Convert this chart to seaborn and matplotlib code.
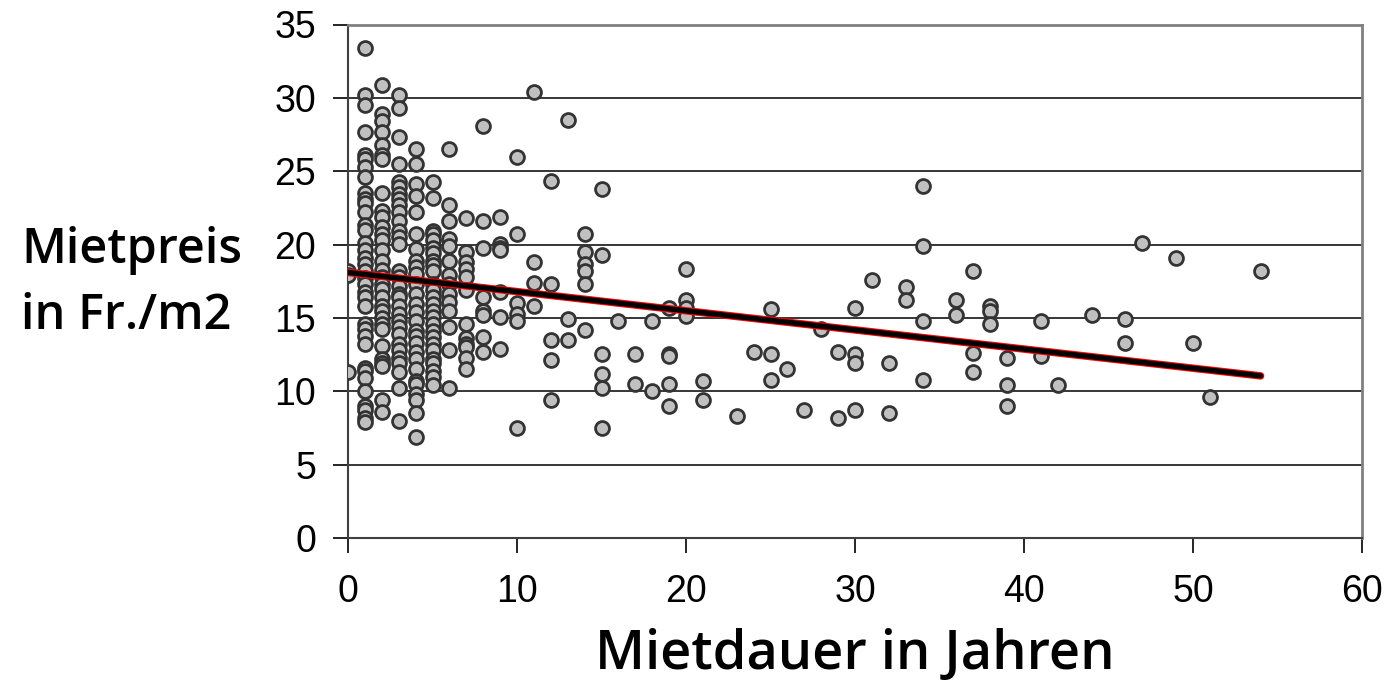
import matplotlib.pyplot as plt
import matplotlib.patheffects as pe
import seaborn as sns
import pandas as pd
import numpy as np

sns.set_theme(style="white")
plt.rcParams.update({"text.color": "black", "axes.labelcolor": "black",
                     "xtick.color": "black", "ytick.color": "black"})

# Mietpreise (Fr./m2) je Mietdauer 0..7 Jahre (dichte Spalten)
preis_j0 = [18.2, 17.9, 11.3]
preis_j1 = [33.4, 30.2, 29.5, 27.7, 26.1, 25.8, 25.3, 24.6, 23.5, 23.1, 22.8, 22.2,
            21.3, 21.0, 20.1, 19.6, 19.1, 18.7, 18.2, 17.7, 17.3, 16.75, 16.4, 15.8,
            14.6, 14.25, 13.8, 13.2, 11.6, 11.4, 10.9, 10.0, 9.0, 8.7, 8.2, 7.9]
preis_j2 = [30.9, 28.9, 28.45, 27.7, 26.8, 26.1, 25.8, 23.5, 22.3, 21.9, 21.2, 20.7,
            20.3, 19.6, 18.9, 18.3, 17.8, 17.3, 17.0, 16.4, 15.8, 15.5, 15.0, 14.6,
            14.25, 13.1, 12.2, 11.9, 11.75, 9.4, 8.6]
preis_j3 = [30.2, 29.3, 27.3, 25.5, 24.25, 23.9, 23.45, 23.1, 22.7, 22.2, 21.6, 20.95,
            20.5, 20.05, 18.2, 17.8, 17.2, 16.6, 16.4, 15.8, 15.3, 14.8, 14.4, 13.9,
            13.2, 12.8, 12.3, 11.9, 11.3, 10.2, 8.0]
preis_j4 = [26.5, 25.5, 24.1, 23.3, 22.2, 20.7, 19.7, 18.9, 18.45, 18.0, 17.3, 16.6,
            15.95, 15.4, 14.8, 14.1, 13.8, 13.3, 12.65, 12.2, 11.5, 10.7, 10.5, 9.8,
            9.4, 8.5, 6.9]
preis_j5 = [24.25, 23.2, 20.95, 20.7, 20.3, 19.8, 19.4, 18.9, 18.6, 18.2, 17.3, 16.9,
            16.4, 15.95, 15.5, 15.05, 14.6, 14.1, 13.7, 13.2, 12.8, 12.2, 11.9, 11.4,
            10.95, 10.4]
preis_j6 = [26.5, 22.7, 21.6, 20.4, 19.9, 18.9, 17.9, 17.3, 16.6, 16.1, 15.5, 14.4,
            12.8, 10.2]
preis_j7 = [21.8, 19.5, 18.8, 18.35, 17.8, 16.9, 14.6, 13.6, 13.2, 13.0, 12.3, 11.5]

# einzelne Punkte ab 8 Jahren
dauer_rest = [8, 8, 8, 8, 8, 8, 8, 8,
              9, 9, 9, 9, 9, 9, 9,
              10, 10, 10, 10, 10, 10,
              11, 11, 11, 11,
              12, 12, 12, 12, 12,
              13, 13, 13,
              14, 14, 14, 14, 14, 14,
              15, 15, 15, 15, 15, 15,
              16, 17, 17, 18, 18,
              19, 19, 19, 19, 19,
              20, 20, 20, 20,
              21, 21, 23, 24,
              25, 25, 25, 26, 27, 28, 29, 29,
              30, 30, 30, 30, 31, 32, 32, 33, 33,
              34, 34, 34, 34, 36, 36, 37, 37, 37,
              38, 38, 38, 39, 39, 39, 41, 41, 42,
              44, 46, 46, 47, 49, 50, 51, 54]
preis_rest = [28.1, 21.6, 19.8, 16.45, 15.5, 15.2, 13.7, 12.7,
              21.9, 20.05, 19.8, 19.6, 16.75, 15.05, 12.9,
              26.0, 20.7, 16.0, 15.3, 14.8, 7.5,
              30.4, 18.8, 17.4, 15.8,
              24.3, 17.3, 13.5, 12.1, 9.4,
              28.5, 14.9, 13.5,
              20.7, 19.5, 18.7, 18.2, 17.3, 14.2,
              23.8, 19.3, 12.55, 11.2, 10.2, 7.5,
              14.8, 12.55, 10.5, 14.8, 10.05,
              15.7, 12.55, 12.4, 10.5, 9.0,
              18.35, 16.2, 15.7, 15.1,
              10.7, 9.4, 8.3, 12.7,
              15.6, 12.55, 10.8, 11.5, 8.7, 14.25, 12.7, 8.2,
              15.7, 12.55, 11.9, 8.7, 17.6, 11.9, 8.5, 17.1, 16.2,
              24.0, 19.9, 14.8, 10.8, 16.2, 15.2, 18.2, 12.6, 11.3,
              15.8, 15.5, 14.6, 12.3, 10.4, 9.0, 14.8, 12.4, 10.4,
              15.2, 14.9, 13.3, 20.1, 19.1, 13.3, 9.6, 18.2]

# Trendlinie (Wert bei 0 und bei 54 Jahren)
trend_dauer = [0, 54]
trend_preis = [18.1, 11.05]

dichte = [preis_j0, preis_j1, preis_j2, preis_j3, preis_j4, preis_j5, preis_j6, preis_j7]
dauer = [j for j, werte in enumerate(dichte) for _ in werte] + dauer_rest
preis = [p for werte in dichte for p in werte] + preis_rest

df = pd.DataFrame({"dauer": dauer, "preis": preis})
df_trend = pd.DataFrame({"dauer": trend_dauer, "preis": trend_preis})

fig = plt.figure(figsize=(13.84, 6.99), dpi=100)
ax = fig.add_axes([348 / 1384, 1 - 538 / 699, 1014 / 1384, 513.5 / 699])

# horizontale Gitterlinien
for y in [5, 10, 15, 20, 25, 30]:
    ax.axhline(y, color="black", linewidth=1.1, zorder=1)

sns.scatterplot(data=df, x="dauer", y="preis", ax=ax,
                s=100, color="#c0c0c0", edgecolor="#333333", linewidth=2.0,
                zorder=3, legend=False)

sns.lineplot(data=df_trend, x="dauer", y="preis", ax=ax, color="black",
             linewidth=3.8, zorder=4,
             path_effects=[pe.Stroke(linewidth=5.4, foreground="red"), pe.Normal()])

ax.set_xlim(0, 60)
ax.set_ylim(0, 35)
ax.set_xticks(range(0, 61, 10))
ax.set_yticks(range(0, 36, 5))
ax.tick_params(axis="both", labelsize=27, length=11, width=1.2,
               direction="out", bottom=True, left=True)
ax.tick_params(axis="x", pad=15)
ax.tick_params(axis="y", pad=12)
for t in ax.get_xticklabels() + ax.get_yticklabels():
    t.set_fontfamily("Liberation Sans")

ax.spines["left"].set_color("#404040")
ax.spines["bottom"].set_color("#404040")
ax.spines["left"].set_linewidth(1.5)
ax.spines["bottom"].set_linewidth(1.5)
ax.spines["top"].set_color("#808080")
ax.spines["right"].set_color("#808080")
ax.spines["top"].set_linewidth(2)
ax.spines["right"].set_linewidth(2)

ax.set_xlabel("Mietdauer in Jahren", fontsize=39, fontfamily="Open Sans",
              fontweight="semibold", labelpad=13)
ax.set_ylabel("Mietpreis\nin Fr./m2", fontsize=35, fontfamily="Open Sans",
              fontweight="semibold", rotation=0, ha="left", va="center",
              linespacing=1.45)
ax.yaxis.set_label_coords(-0.322, 0.495)

fig.savefig("out.png", dpi=100)
